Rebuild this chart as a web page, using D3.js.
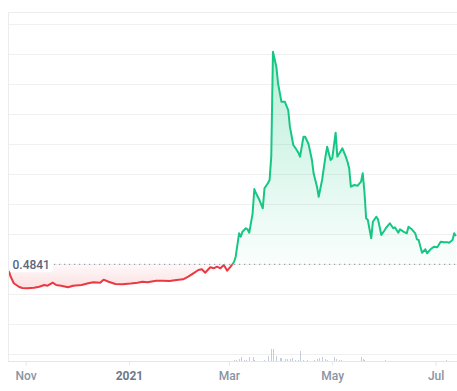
<!DOCTYPE html>
<html>
<head>
<meta charset="utf-8">
<script src="https://cdn.jsdelivr.net/npm/d3@7.9.0/dist/d3.min.js"></script>
<style>
  body { margin: 0; background: #fff; }
  svg { display: block; font-family: Roboto, "Liberation Sans", sans-serif; }
</style>
</head>
<body>
<svg id="chart" width="457" height="391"></svg>
<script>
// Price series
const priceDates = [
  "2020-10-21","2020-10-23","2020-10-25","2020-10-28","2020-10-30","2020-11-02","2020-11-06","2020-11-09",
  "2020-11-12","2020-11-14","2020-11-17","2020-11-19","2020-11-22","2020-11-26","2020-11-29","2020-12-04",
  "2020-12-08","2020-12-11","2020-12-15","2020-12-17","2020-12-20","2020-12-24","2020-12-28","2021-01-02",
  "2021-01-06","2021-01-09","2021-01-12","2021-01-17","2021-01-21","2021-01-25","2021-01-29","2021-02-02",
  "2021-02-05","2021-02-08","2021-02-11","2021-02-13","2021-02-15","2021-02-18","2021-02-20","2021-02-22",
  "2021-02-24","2021-02-26","2021-02-28","2021-03-02","2021-03-04","2021-03-05","2021-03-07","2021-03-08",
  "2021-03-09","2021-03-11","2021-03-12","2021-03-13","2021-03-15","2021-03-16","2021-03-17","2021-03-19",
  "2021-03-21","2021-03-22","2021-03-24","2021-03-25","2021-03-26","2021-03-27","2021-03-29","2021-03-30",
  "2021-04-01","2021-04-03","2021-04-05","2021-04-06","2021-04-08","2021-04-09","2021-04-11","2021-04-12",
  "2021-04-14","2021-04-15","2021-04-17","2021-04-19","2021-04-20","2021-04-22","2021-04-23","2021-04-25",
  "2021-04-27","2021-04-28","2021-04-30","2021-05-01","2021-05-03","2021-05-04","2021-05-07","2021-05-09",
  "2021-05-10","2021-05-11","2021-05-12","2021-05-14","2021-05-16","2021-05-18","2021-05-19","2021-05-20",
  "2021-05-21","2021-05-22","2021-05-24","2021-05-25","2021-05-27","2021-05-28","2021-05-30","2021-06-01",
  "2021-06-02","2021-06-04","2021-06-06","2021-06-07","2021-06-09","2021-06-10","2021-06-12","2021-06-14",
  "2021-06-15","2021-06-17","2021-06-19","2021-06-20","2021-06-21","2021-06-23","2021-06-25","2021-06-26",
  "2021-06-28","2021-06-30","2021-07-02","2021-07-04","2021-07-06","2021-07-08","2021-07-09","2021-07-11",
  "2021-07-12","2021-07-13"
];
const priceValues = [
  0.4841,0.4451,0.4208,0.4094,0.4051,0.4041,0.4061,0.4094,
  0.4151,0.4128,0.4228,0.4151,0.4128,0.4074,0.4128,0.4151,
  0.4208,0.4241,0.4228,0.4328,0.4261,0.4184,0.4174,0.4201,
  0.4228,0.4261,0.4241,0.4294,0.4294,0.4284,0.4318,0.4341,
  0.4428,0.4541,0.4651,0.4674,0.4561,0.4741,0.4708,0.4761,
  0.4708,0.4818,0.4628,0.4761,0.4918,0.5094,0.5874,0.5761,
  0.5928,0.6041,0.6008,0.5894,0.6541,0.7351,0.7208,0.6984,
  0.6708,0.7374,0.7541,0.7651,0.8428,1.1928,1.1428,1.0874,
  1.0261,1.0261,0.9984,0.9428,0.8818,0.8741,0.8561,0.8428,
  0.9094,0.9094,0.8851,0.8318,0.7874,0.7428,0.7094,0.7651,
  0.8428,0.8761,0.8318,0.8374,0.9228,0.8428,0.8708,0.8428,
  0.8261,0.8041,0.7428,0.7484,0.7461,0.7594,0.7874,0.7261,
  0.6374,0.6318,0.5708,0.6261,0.6428,0.6341,0.5818,0.5984,
  0.6074,0.6208,0.6041,0.6074,0.5894,0.6008,0.5928,0.5874,
  0.6094,0.6008,0.5874,0.5674,0.5651,0.5228,0.5341,0.5208,
  0.5341,0.5428,0.5408,0.5594,0.5574,0.5574,0.5561,0.5651,
  0.5874,0.5784
];

// Volume bars (only the visible ones, millions)
const volumeDates = [
  "2021-03-04","2021-03-05","2021-03-07","2021-03-08","2021-03-10","2021-03-11","2021-03-13","2021-03-15",
  "2021-03-16","2021-03-22","2021-03-24","2021-03-26","2021-03-27","2021-03-29","2021-03-31","2021-04-01",
  "2021-04-03","2021-04-04","2021-04-06","2021-04-07","2021-04-09","2021-04-11","2021-04-12","2021-04-14",
  "2021-04-16","2021-04-20","2021-04-22","2021-04-23","2021-04-25","2021-04-27","2021-04-28","2021-05-02",
  "2021-05-03","2021-05-05","2021-05-06","2021-05-18","2021-05-19","2021-05-20","2021-06-01","2021-07-07"
];
const volumeValues = [
  0.5,0.65,1,2,0.5,0.5,2,2,
  0.5,0.5,2.5,6,6,2.5,1.5,1.5,
  1,1,1,1.5,0.5,0.5,5,0.5,
  0.5,0.5,1,1.5,2,1,0.5,2,
  1,0.5,0.5,2,1,0.5,0.5,0.5
];

const tickDates = ["2020-11-01", "2021-01-01", "2021-03-01", "2021-05-01", "2021-07-01"];
const tickLabels = ["Nov", "2021", "Mar", "May", "Jul"];
const basePrice = 0.4841;

const green = "#16c784";
const red = "#ea3943";

const parse = d3.utcParse("%Y-%m-%d");
const data = priceDates.map((d, i) => ({ date: parse(d), value: priceValues[i] }));
const vols = volumeDates.map((d, i) => ({ date: parse(d), value: volumeValues[i] }));

const svg = d3.select("#chart");
const plotLeft = 8, plotTop = 12, plotRight = 457, plotBottom = 361;

const x = d3.scaleUtc()
  .domain([parse("2020-10-21"), parse("2021-07-14")])
  .range([7, 457.6]);
const y = d3.scaleLinear().domain([0.1851, 1.2851]).range([354, 24]);
const yVol = d3.scaleLinear().domain([0, 6]).range([plotBottom, plotBottom - 12]);

const baseY = y(basePrice);

// gridlines
const gridValues = d3.range(12).map(i => 0.1851 + i * 0.1);
svg.append("g")
  .selectAll("line")
  .data(gridValues)
  .join("line")
  .attr("x1", plotLeft).attr("x2", plotRight)
  .attr("y1", d => Math.round(y(d)) + 0.5)
  .attr("y2", d => Math.round(y(d)) + 0.5)
  .attr("stroke", "#f0f0f0");

// frame
svg.append("path")
  .attr("d", `M${plotLeft + 0.5},${plotBottom}V${plotTop + 0.5}H${plotRight}`)
  .attr("fill", "none")
  .attr("stroke", "#ececec");

// volume
svg.append("g")
  .selectAll("rect")
  .data(vols)
  .join("rect")
  .attr("x", d => Math.round(x(d.date)))
  .attr("width", 1)
  .attr("y", d => yVol(d.value))
  .attr("height", d => plotBottom - yVol(d.value))
  .attr("fill", "#c5ccda")
  .attr("shape-rendering", "crispEdges");

// gradients and clips
const defs = svg.append("defs");
const gGrad = defs.append("linearGradient").attr("id", "gGrad")
  .attr("gradientUnits", "userSpaceOnUse")
  .attr("x1", 0).attr("x2", 0).attr("y1", y(d3.max(priceValues))).attr("y2", baseY);
gGrad.append("stop").attr("offset", 0).attr("stop-color", green).attr("stop-opacity", 0.3);
gGrad.append("stop").attr("offset", 1).attr("stop-color", green).attr("stop-opacity", 0.02);

const rGrad = defs.append("linearGradient").attr("id", "rGrad")
  .attr("gradientUnits", "userSpaceOnUse")
  .attr("x1", 0).attr("x2", 0).attr("y1", baseY).attr("y2", y(d3.min(priceValues)));
rGrad.append("stop").attr("offset", 0).attr("stop-color", red).attr("stop-opacity", 0.03);
rGrad.append("stop").attr("offset", 1).attr("stop-color", red).attr("stop-opacity", 0.16);

defs.append("clipPath").attr("id", "above")
  .append("rect").attr("x", plotLeft + 1).attr("y", 0).attr("width", plotRight).attr("height", baseY);
defs.append("clipPath").attr("id", "below")
  .append("rect").attr("x", plotLeft + 1).attr("y", baseY).attr("width", plotRight).attr("height", plotBottom - baseY);

const area = d3.area().x(d => x(d.date)).y0(baseY).y1(d => y(d.value));
const line = d3.line().x(d => x(d.date)).y(d => y(d.value));

svg.append("path").datum(data).attr("d", area)
  .attr("fill", "url(#gGrad)").attr("clip-path", "url(#above)");
svg.append("path").datum(data).attr("d", area)
  .attr("fill", "url(#rGrad)").attr("clip-path", "url(#below)");

svg.append("path").datum(data).attr("d", line)
  .attr("fill", "none").attr("stroke", green).attr("stroke-width", 2)
  .attr("stroke-linejoin", "round").attr("clip-path", "url(#above)");
svg.append("path").datum(data).attr("d", line)
  .attr("fill", "none").attr("stroke", red).attr("stroke-width", 2)
  .attr("stroke-linejoin", "round").attr("clip-path", "url(#below)");

// baseline
svg.append("line")
  .attr("x1", 54).attr("x2", plotRight)
  .attr("y1", baseY).attr("y2", baseY)
  .attr("stroke", "#9aa1ab")
  .attr("stroke-width", 1.2)
  .attr("stroke-dasharray", "1.2,3.8");

svg.append("rect")
  .attr("x", 9).attr("y", baseY - 8).attr("width", 44).attr("height", 16)
  .attr("rx", 3).attr("fill", "#fff").attr("fill-opacity", 0.9);
svg.append("text")
  .attr("x", 12.5).attr("y", baseY + 5)
  .attr("font-size", 12).attr("font-weight", 500)
  .attr("fill", "#58667e")
  .text(basePrice.toFixed(4));

// x axis
const xAxis = d3.axisBottom(x)
  .tickValues(tickDates.map(parse))
  .tickFormat((d, i) => tickLabels[i])
  .tickSize(4)
  .tickPadding(6)
  .tickSizeOuter(0);

const gx = svg.append("g")
  .attr("transform", `translate(0,${plotBottom + 0.5})`)
  .call(xAxis);
gx.select(".domain").attr("stroke", "#e3e6eb").attr("d", `M${plotLeft},0H${plotRight}`);
gx.selectAll(".tick line").attr("stroke", "#e3e6eb");
gx.selectAll(".tick text")
  .attr("font-family", "Roboto, sans-serif")
  .attr("font-size", 12)
  .attr("font-weight", (d, i) => tickLabels[i] === "2021" ? 700 : 500)
  .attr("fill", (d, i) => tickLabels[i] === "2021" ? "#6f7888" : "#8a93a3");
</script>
</body>
</html>
